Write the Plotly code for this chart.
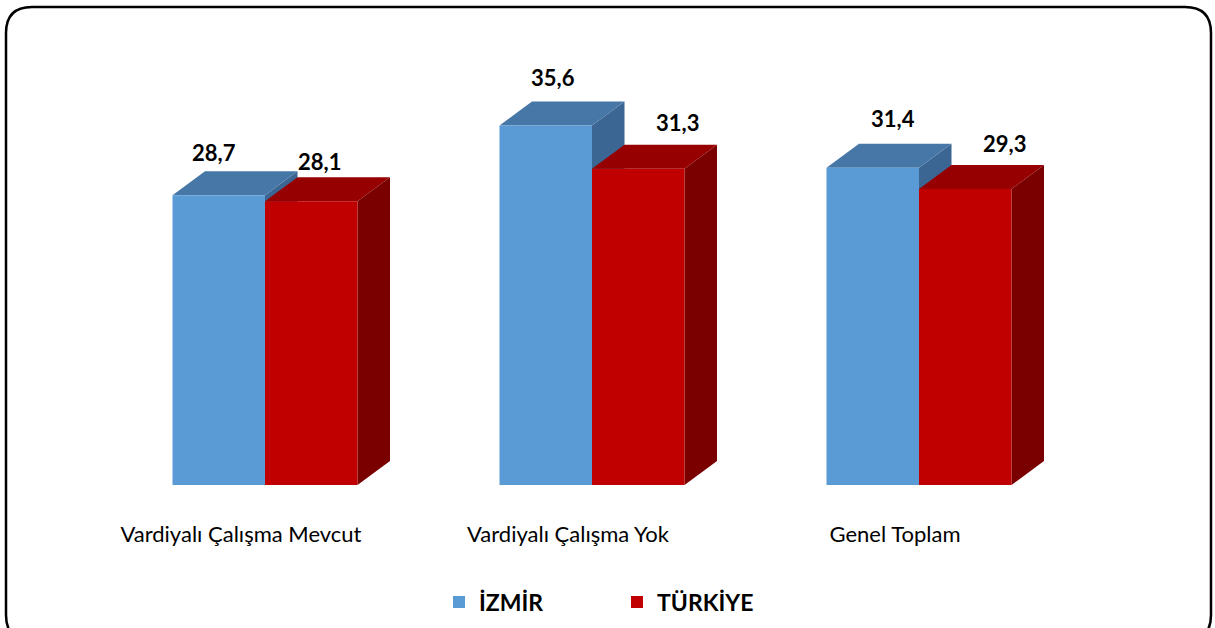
import plotly.graph_objects as go

categories = ["Vardiyalı Çalışma Mevcut", "Vardiyalı Çalışma Yok", "Genel Toplam"]
izmir = [28.7, 35.6, 31.4]
turkiye = [28.1, 31.3, 29.3]
izmir_labels = ["28,7", "35,6", "31,4"]
turkiye_labels = ["28,1", "31,3", "29,3"]

# label nudges in px (style only)
izmir_nudge = [(-5, 19), (7, 24), (20, 25)]
turkiye_nudge = [(8, 16), (39, 22), (39, 22)]

W, H = 1215, 628
L, R, T, B = 40, 35, 60, 143
PX_PER_X = 327.0           # px per category
PX_PER_Y = 10.1            # px per value unit
plot_w = W - L - R
plot_h = H - T - B
x0_px = 265 - L            # px of category 0 center inside plot
xr = [-x0_px / PX_PER_X, (plot_w - x0_px) / PX_PER_X]
yr = [0, plot_h / PX_PER_Y]

bw = 92.5 / PX_PER_X       # bar width in x units
dx = 32.5 / PX_PER_X       # depth offset
dy = 24 / PX_PER_Y

series = [
    ("İZMİR", izmir, izmir_labels, izmir_nudge, -bw, "#5B9BD5", "#4677A7", "#3B6592"),
    ("TÜRKİYE", turkiye, turkiye_labels, turkiye_nudge, 0.0, "#C00000", "#960000", "#7A0000"),
]

fig = go.Figure()

def poly(xs, ys, color):
    fig.add_trace(go.Scatter(x=xs + [xs[0]], y=ys + [ys[0]], mode="lines", fill="toself",
                             fillcolor=color, line=dict(width=0, color=color),
                             hoverinfo="skip", showlegend=False))

for i in range(len(categories)):
    for name, vals, labs, nud, off, cf, ct, cs in series:
        v = vals[i]
        xa = i + off
        xb = xa + bw
        poly([xb, xb + dx, xb + dx, xb], [0, dy, v + dy, v], cs)          # side
        poly([xa, xa + dx, xb + dx, xb], [v, v + dy, v + dy, v], ct)      # top
        poly([xa, xb, xb, xa], [0, 0, v, v], cf)                          # front

# legend entries
for name, vals, labs, nud, off, cf, ct, cs in series:
    fig.add_trace(go.Bar(x=[None], y=[None], name=name, marker=dict(color=cf, line=dict(width=0))))

# data labels
for name, vals, labs, nud, off, cf, ct, cs in series:
    for i, v in enumerate(vals):
        fig.add_annotation(x=i + off + bw / 2, y=v + dy, text="<b>" + labs[i] + "</b>",
                           showarrow=False, yanchor="middle", xanchor="center",
                           xshift=nud[i][0], yshift=nud[i][1],
                           font=dict(family="Lato", size=22, color="#000000"))

# rounded border (paper coords)
def px2paper(px, py):
    return (px - L) / plot_w, (H - B - py) / plot_h

r = 26
x_l, x_r, y_t, y_b = 6, 1211, 7, 641
def P(px, py):
    a, b = px2paper(px, py)
    return f"{a:.5f},{b:.5f}"
path = (f"M {P(x_l, y_t + r)} Q {P(x_l, y_t)} {P(x_l + r, y_t)} "
        f"L {P(x_r - r, y_t)} Q {P(x_r, y_t)} {P(x_r, y_t + r)} "
        f"L {P(x_r, y_b - r)} Q {P(x_r, y_b)} {P(x_r - r, y_b)} "
        f"L {P(x_l + r, y_b)} Q {P(x_l, y_b)} {P(x_l, y_b - r)} Z")
fig.add_shape(type="path", path=path, xref="paper", yref="paper",
              line=dict(color="#000000", width=2.5), layer="above")

fig.update_layout(
    width=W, height=H,
    margin=dict(l=L, r=R, t=T, b=B),
    paper_bgcolor="white", plot_bgcolor="white",
    showlegend=True,
    legend=dict(orientation="h", xref="container", yref="container",
                x=617 / W, xanchor="center", y=1 - 602 / H, yanchor="middle",
                font=dict(family="Lato", size=23, color="#000000", weight="bold"),
                entrywidth=133, itemwidth=30),
    xaxis=dict(range=xr, showgrid=False, zeroline=False, showline=False,
               tickmode="array", tickvals=[i - 24 / PX_PER_X for i in range(len(categories))],
               ticktext=categories, ticks="", ticklabelstandoff=34,
               tickfont=dict(family="Lato", size=22, color="#000000"), fixedrange=True),
    yaxis=dict(range=yr, showgrid=False, zeroline=False, showline=False,
               showticklabels=False, ticks="", fixedrange=True),
)

fig.write_html("out.html", config={"displayModeBar": False},
               post_script="document.body.style.margin='0px';")
